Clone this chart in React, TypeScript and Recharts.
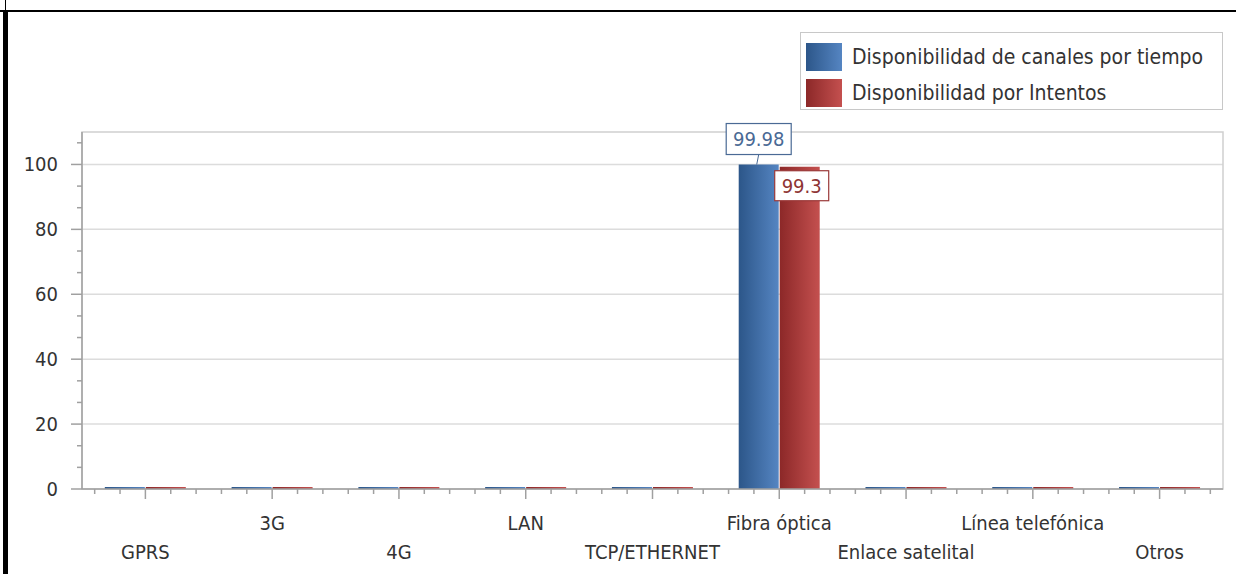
import { BarChart, Bar, XAxis, YAxis, CartesianGrid, Legend, LabelList, ReferenceArea } from 'recharts';

const categories = ['GPRS', '3G', '4G', 'LAN', 'TCP/ETHERNET', 'Fibra óptica', 'Enlace satelital', 'Línea telefónica', 'Otros'];
const porTiempo = [0, 0, 0, 0, 0, 99.98, 0, 0, 0];
const porIntentos = [0, 0, 0, 0, 0, 99.3, 0, 0, 0];
const seriesNames = ['Disponibilidad de canales por tiempo', 'Disponibilidad por Intentos'];
const yMajorTicks = [0, 20, 40, 60, 80, 100];
const yAllTicks = [0, 6.67, 13.33, 20, 26.67, 33.33, 40, 46.67, 53.33, 60, 66.67, 73.33, 80, 86.67, 93.33, 100, 106.67];

const data = categories.map((name, i) => ({ name, tiempo: porTiempo[i], intentos: porIntentos[i] }));

const FONT = '"DejaVu Sans Condensed", "DejaVu Sans", sans-serif';
const TEXT = '#333';
const AXIS = '#a0a0a0';

function YTick({ x, y, payload }: any) {
  const major = yMajorTicks.includes(payload.value);
  return (
    <g>
      <line x1={x - (major ? 11 : 5)} x2={x} y1={y} y2={y} stroke={AXIS} strokeWidth={1.5} />
      {major && (
        <text x={x - 24} y={y} textAnchor="end" dominantBaseline="central" fontSize={20} fill={TEXT} fontFamily={FONT}>
          {payload.value}
        </text>
      )}
    </g>
  );
}

function XTick({ x, y, payload, index, width }: any) {
  const band = (typeof width === 'number' && width > 0 ? width : 1141) / categories.length;
  const minors = [-0.4, -0.2, 0.2, 0.4];
  return (
    <g>
      <line x1={x} x2={x} y1={y} y2={y + 10} stroke={AXIS} strokeWidth={1.5} />
      {minors.map((m) => (
        <line key={m} x1={x + m * band} x2={x + m * band} y1={y} y2={y + 5} stroke={AXIS} strokeWidth={1.5} />
      ))}
      <text x={x} y={y + (index % 2 === 0 ? 63 : 34)} textAnchor="middle" dominantBaseline="central" fontSize={20} fill={TEXT} fontFamily={FONT}>
        {payload.value}
      </text>
    </g>
  );
}

function TiempoLabel({ x, y, width, value }: any) {
  if (!value) return null;
  const cx = x + width / 2;
  const w = 65;
  const h = 31;
  return (
    <g>
      <line x1={cx} x2={cx - 2} y1={y - 10} y2={y} stroke="#4a6a95" strokeWidth={1} />
      <rect x={cx - w / 2} y={y - 10 - h} width={w} height={h} fill="#fff" stroke="#4a6a95" strokeWidth={1.2} />
      <text x={cx} y={y - 10 - h / 2} textAnchor="middle" dominantBaseline="central" fontSize={20} fill="#4a6a95" fontFamily={FONT}>
        {value}
      </text>
    </g>
  );
}

function IntentosLabel({ x, y, width, value }: any) {
  if (!value) return null;
  const cx = x + width / 2 + 2;
  const w = 54;
  const h = 30;
  return (
    <g>
      <rect x={cx - w / 2} y={y + 4} width={w} height={h} fill="#fff" stroke="#9a3838" strokeWidth={1.2} />
      <text x={cx} y={y + 4 + h / 2} textAnchor="middle" dominantBaseline="central" fontSize={20} fill="#8e3434" fontFamily={FONT}>
        {value}
      </text>
    </g>
  );
}

const swatches = [
  'linear-gradient(to right, #2c5689, #5585c2)',
  'linear-gradient(to right, #8c2828, #c4504f)',
];

function LegendBox() {
  return (
    <div style={{ border: '1.5px solid #c8c8c8', background: '#fff', height: 78, boxSizing: 'border-box', padding: '6px 5px', fontFamily: FONT, fontSize: 21, color: TEXT }}>
      {seriesNames.map((n, i) => (
        <div key={n} style={{ display: 'flex', alignItems: 'center', height: 36 }}>
          <span style={{ width: 36, height: 28, background: swatches[i], marginRight: 10, flex: 'none' }} />
          <span style={{ whiteSpace: 'nowrap' }}>{n}</span>
        </div>
      ))}
    </div>
  );
}

export default function App() {
  return (
    <div style={{ position: 'absolute', left: 0, top: 0, width: 1236, height: 574, background: '#fff', overflow: 'hidden' }}>
      <div style={{ position: 'absolute', left: 5, top: 0, width: 1, height: 10, background: '#000' }} />
      <div style={{ position: 'absolute', left: 0, top: 10, width: 1236, height: 1.5, background: '#000' }} />
      <div style={{ position: 'absolute', left: 3, top: 10, width: 5, height: 564, background: '#000' }} />
      <BarChart
        width={1236}
        height={574}
        data={data}
        margin={{ top: 132, right: 13, bottom: 0, left: 0 }}
        barCategoryGap="18%"
        barGap={1}
      >
        <defs>
          <linearGradient id="gBlue" x1="0" y1="0" x2="1" y2="0">
            <stop offset="0%" stopColor="#2c5689" />
            <stop offset="100%" stopColor="#5585c2" />
          </linearGradient>
          <linearGradient id="gRed" x1="0" y1="0" x2="1" y2="0">
            <stop offset="0%" stopColor="#8c2828" />
            <stop offset="100%" stopColor="#c4504f" />
          </linearGradient>
        </defs>
        <CartesianGrid vertical={false} horizontalValues={yMajorTicks} stroke="#dcdcdc" strokeWidth={1.5} />
        <ReferenceArea y1={0} y2={110} fill="none" stroke="#d0d0d0" strokeWidth={1.5} ifOverflow="visible" />
        <XAxis
          dataKey="name"
          interval={0}
          height={85}
          tickSize={0}
          tickMargin={0}
          tick={<XTick />}
          axisLine={{ stroke: AXIS, strokeWidth: 1.5 }}
          tickLine={false}
        />
        <YAxis
          domain={[0, 110]}
          ticks={yAllTicks}
          interval={0}
          width={82}
          tickSize={0}
          tickMargin={0}
          tick={<YTick />}
          axisLine={{ stroke: AXIS, strokeWidth: 1.5 }}
          tickLine={false}
        />
        <Legend
          layout="vertical"
          align="center"
          verticalAlign="middle"
          wrapperStyle={{ left: 800, top: 32, width: 423 }}
          content={<LegendBox />}
        />
        <Bar dataKey="tiempo" name={seriesNames[0]} fill="url(#gBlue)" minPointSize={2} isAnimationActive={false}>
          <LabelList dataKey="tiempo" content={<TiempoLabel />} />
        </Bar>
        <Bar dataKey="intentos" name={seriesNames[1]} fill="url(#gRed)" minPointSize={2} isAnimationActive={false}>
          <LabelList dataKey="intentos" content={<IntentosLabel />} />
        </Bar>
      </BarChart>
    </div>
  );
}
